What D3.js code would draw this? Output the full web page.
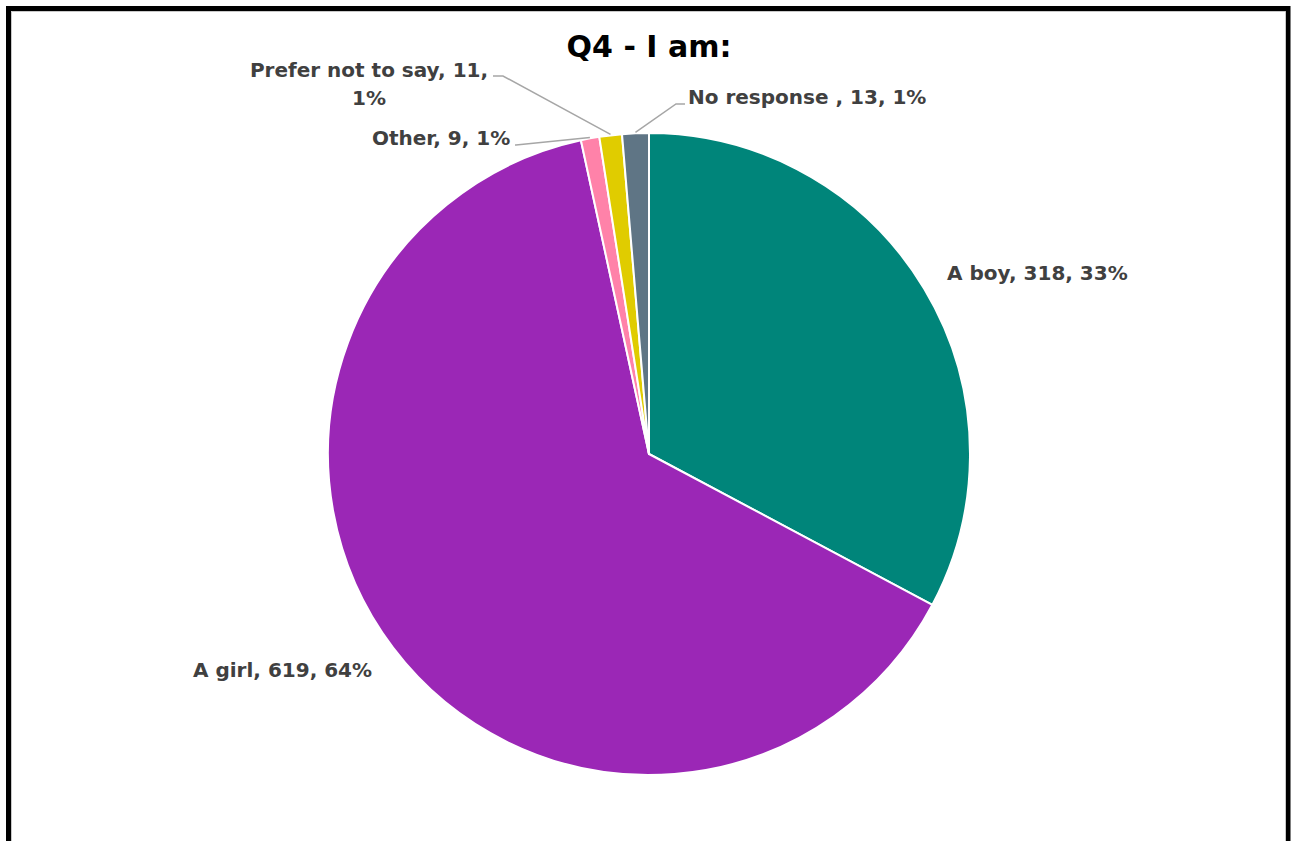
<!DOCTYPE html>
<html>
<head>
<meta charset="utf-8">
<script src="https://cdn.jsdelivr.net/npm/d3@7"></script>
<style>
  html, body { margin: 0; padding: 0; background: #fff; }
  svg { display: block; }
</style>
</head>
<body>
<svg id="chart" width="1292" height="841"></svg>
<script>
const categories = ["A boy", "A girl", "Other", "Prefer not to say", "No response "];
const values = [318, 619, 9, 11, 13];
const percentLabels = ["33%", "64%", "1%", "1%", "1%"];
const colors = ["#00857A", "#9B27B6", "#FF82A9", "#E0CC00", "#5F7585"];
const title = "Q4 - I am:";

const svg = d3.select("#chart");
const W = 1292, H = 841;

// outer frame (bottom edge cropped out of view)
svg.append("rect").attr("x", 0).attr("y", 0).attr("width", W).attr("height", H).attr("fill", "#fff");
svg.append("path")
  .attr("d", `M8.5,${H + 5} L8.5,8.5 L1288,8.5 L1288,${H + 5}`)
  .attr("fill", "none").attr("stroke", "#000").attr("stroke-width", 5);
svg.append("path")
  .attr("d", `M11.5,${H + 5} L11.5,11.5 L1285.5,11.5 L1285.5,${H + 5}`)
  .attr("fill", "none").attr("stroke", "#c8c8c8").attr("stroke-width", 1);

svg.append("text")
  .attr("x", 649).attr("y", 57)
  .attr("text-anchor", "middle")
  .attr("font-family", "DejaVu Sans, sans-serif")
  .attr("font-weight", "bold")
  .attr("font-size", 30)
  .attr("fill", "#000")
  .text(title);

const cx = 649, cy = 454, R = 321;
const data = categories.map((c, i) => ({ name: c, value: values[i], pct: percentLabels[i], color: colors[i] }));
const pie = d3.pie().value(d => d.value).sort(null);
const arcs = pie(data);
const arc = d3.arc().innerRadius(0).outerRadius(R);

const g = svg.append("g").attr("transform", `translate(${cx},${cy})`);
g.selectAll("path.slice").data(arcs).enter().append("path")
  .attr("class", "slice")
  .attr("d", arc)
  .attr("fill", d => d.data.color)
  .attr("stroke", "#fff")
  .attr("stroke-width", 2)
  .attr("stroke-linejoin", "round");

// label placement (relative to chart), one per category
const labelPos = [
  { x: 947, y: 280, anchor: "start", lines: null },
  { x: 193, y: 677, anchor: "start", lines: null },
  { x: 372, y: 145, anchor: "start", lines: null },
  { x: 369, y: 77, anchor: "middle", lines: 2 },
  { x: 688, y: 104, anchor: "start", lines: null }
];
// leader lines: from label side toward the slice edge
const leaderStart = [null, null, [515, 145], [493, 76], [685, 104]];
const leaderElbow = [null, null, [516, 145], [503, 76], [676, 104]];

const txt = svg.append("g")
  .attr("font-family", "DejaVu Sans, sans-serif")
  .attr("font-weight", "bold")
  .attr("font-size", 20)
  .attr("fill", "#404040");

arcs.forEach((a, i) => {
  const d = a.data;
  const p = labelPos[i];
  if (leaderStart[i]) {
    const mid = (a.startAngle + a.endAngle) / 2;
    const ex = cx + (R + 1) * Math.sin(mid), ey = cy - (R + 1) * Math.cos(mid);
    svg.append("polyline")
      .attr("points", [leaderStart[i], leaderElbow[i], [ex, ey]].map(q => q.join(",")).join(" "))
      .attr("fill", "none").attr("stroke", "#A6A6A6").attr("stroke-width", 1.5);
  }
  const t = txt.append("text").attr("x", p.x).attr("y", p.y).attr("text-anchor", p.anchor);
  if (p.lines === 2) {
    t.append("tspan").attr("x", p.x).text(`${d.name}, ${d.value},`);
    t.append("tspan").attr("x", p.x).attr("dy", 28).text(d.pct);
  } else {
    t.text(`${d.name}, ${d.value}, ${d.pct}`);
  }
});
</script>
</body>
</html>
